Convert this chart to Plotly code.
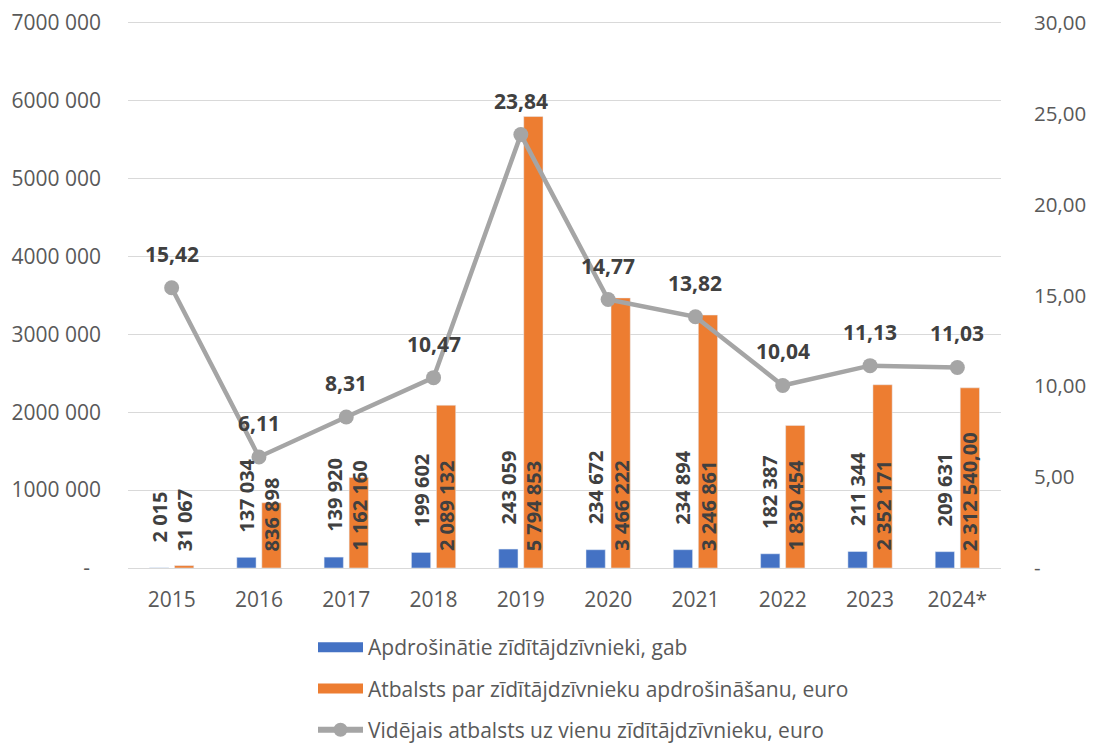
import plotly.graph_objects as go

years = ["2015", "2016", "2017", "2018", "2019", "2020", "2021", "2022", "2023", "2024*"]
insured = [2015, 137034, 139920, 199602, 243059, 234672, 234894, 182387, 211344, 209631]
support = [31067, 836898, 1162160, 2089132, 5794853, 3466222, 3246861, 1830454, 2352171, 2312540.00]
avg_support = [15.42, 6.11, 8.31, 10.47, 23.84, 14.77, 13.82, 10.04, 11.13, 11.03]

insured_labels = ["2 015", "137 034", "139 920", "199 602", "243 059", "234 672", "234 894", "182 387", "211 344", "209 631"]
support_labels = ["31 067", "836 898", "1 162 160", "2 089 132", "5 794 853", "3 466 222", "3 246 861", "1 830 454", "2 352 171", "2 312 540,00"]
avg_labels = ["15,42", "6,11", "8,31", "10,47", "23,84", "14,77", "13,82", "10,04", "11,13", "11,03"]

left_tickvals = [0, 1000000, 2000000, 3000000, 4000000, 5000000, 6000000, 7000000]
left_ticktext = ["-\u00a0\u00a0", "1000 000", "2000 000", "3000 000", "4000 000", "5000 000", "6000 000", "7000 000"]
right_tickvals = [0, 5, 10, 15, 20, 25, 30]
right_ticktext = ["-", "5,00", "10,00", "15,00", "20,00", "25,00", "30,00"]

names = ["Apdrošinātie zīdītājdzīvnieki, gab",
         "Atbalsts par zīdītājdzīvnieku apdrošināšanu, euro",
         "Vidējais atbalsts uz vienu zīdītājdzīvnieku, euro"]

BLUE = "#4472C4"
ORANGE = "#ED7D31"
GRAY = "#A5A5A5"
TXT = "#404040"
TICK = "#595959"
FONT = "Open Sans"

W, H = 1078, 736          # page body has an 8px margin
ML, MR, MT, MB = 120, 85, 13, 176
PH = H - MT - MB
PW = W - ML - MR

fig = go.Figure()
fig.add_trace(go.Bar(x=years, y=insured, name=names[0], marker_color=BLUE,
                     showlegend=False, yaxis="y"))
fig.add_trace(go.Bar(x=years, y=support, name=names[1], marker_color=ORANGE,
                     showlegend=False, yaxis="y"))
fig.add_trace(go.Scatter(x=years, y=avg_support, name=names[2], mode="lines+markers",
                         line=dict(color=GRAY, width=4.5),
                         marker=dict(size=15, color=GRAY),
                         showlegend=False, yaxis="y2"))
# legend entries (wide swatches like the original)
fig.add_trace(go.Scatter(x=[None], y=[None], name=names[0], mode="lines",
                         line=dict(color=BLUE, width=15), legendgroup="a"))
fig.add_trace(go.Scatter(x=[None], y=[None], name=names[1], mode="lines",
                         line=dict(color=ORANGE, width=15), legendgroup="b"))
fig.add_trace(go.Scatter(x=[None], y=[None], name=names[2], mode="lines+markers",
                         line=dict(color=GRAY, width=6), marker=dict(size=14, color=GRAY),
                         legendgroup="c"))

ann = []
bar_font = dict(family=FONT, size=20, color=TXT, weight="bold")
line_font = dict(family=FONT, size=21, color=TXT, weight="bold")
for i, (v, t) in enumerate(zip(insured, insured_labels)):
    ann.append(dict(x=i, y=v, xref="x", yref="y", text=t, textangle=-90,
                    showarrow=False, xshift=-12.5, yshift=23, yanchor="bottom",
                    font=bar_font))
for i, t in enumerate(support_labels):
    ann.append(dict(x=i, y=0, xref="x", yref="y", text=t, textangle=-90,
                    showarrow=False, xshift=12.5, yshift=15, yanchor="bottom",
                    font=bar_font))
for i, (v, t) in enumerate(zip(avg_support, avg_labels)):
    ann.append(dict(x=i, y=v, xref="x", yref="y2", text=t,
                    showarrow=False, yshift=18, yanchor="bottom",
                    font=line_font))

YMAX = 7000000
PAD = 1.003   # tiny headroom so the top gridline is drawn
fig.update_layout(
    width=W, height=H,
    margin=dict(l=ML, r=MR, t=MT, b=MB, autoexpand=False),
    paper_bgcolor="white", plot_bgcolor="white",
    font=dict(family=FONT, color=TICK, size=21),
    barmode="group", bargap=0.427, bargroupgap=0.23,
    showlegend=True,
    legend=dict(orientation="v", x=(305 - ML) / PW, xanchor="left",
                y=-(619 - (MT + PH)) / PH, yanchor="top",
                font=dict(family=FONT, size=21, color=TICK), tracegroupgap=11,
                itemwidth=45, bgcolor="rgba(0,0,0,0)", itemclick=False),
    xaxis=dict(type="category", range=[-0.5, len(years) - 0.5], autorange=False,
               showgrid=False, showline=True, linecolor="#D9D9D9",
               linewidth=1, ticks="", tickfont=dict(size=21, color=TICK),
               ticklabelstandoff=13),
    yaxis=dict(range=[0, YMAX * PAD], tickvals=left_tickvals, ticktext=left_ticktext,
               showgrid=True, gridcolor="#D9D9D9", gridwidth=1, zeroline=False,
               showline=False, ticks="", tickfont=dict(size=21, color=TICK),
               ticklabelstandoff=26, ticklabeloverflow="allow"),
    yaxis2=dict(range=[0, 30 * PAD], tickvals=right_tickvals, ticktext=right_ticktext,
                overlaying="y", side="right", showgrid=False, zeroline=False,
                showline=False, ticks="", tickfont=dict(size=20.5, color=TICK),
                ticklabelstandoff=32, ticklabeloverflow="allow"),
    annotations=ann,
)

fig.write_html("out.html")
